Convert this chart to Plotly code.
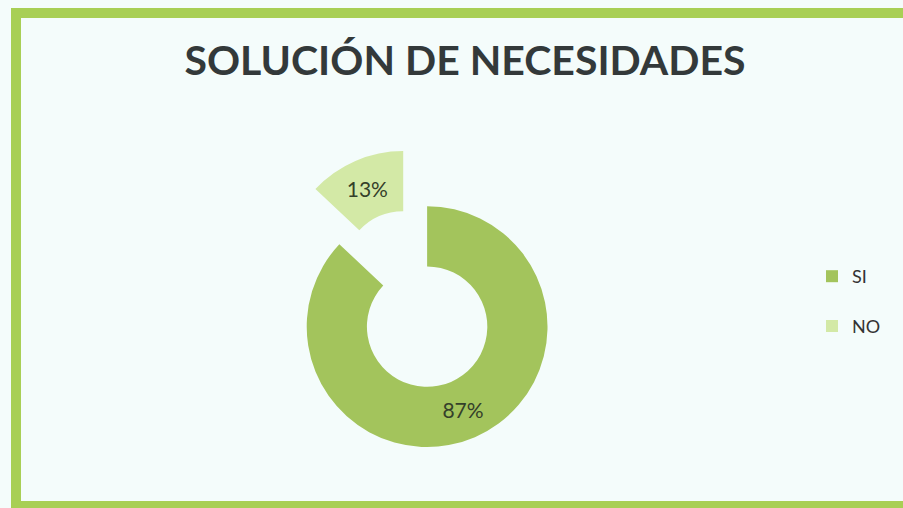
import plotly.graph_objects as go

# Survey answers and their share
labels = ["SI", "NO"]
values = [87, 13]
pulls = [0, 0.5]
colors = ["#a3c45c", "#d3e9a6"]
title_text = "SOLUCIÓN DE NECESIDADES"

W, H = 903, 508
bg = "#f4fcfb"
frame = "#a8cf55"

# Legend entries get a blank second line so the two items sit further apart
legend_names = [f"{lab}<br> " for lab in labels]

fig = go.Figure(
    go.Pie(
        labels=legend_names,
        values=values,
        pull=pulls,
        hole=0.5,
        sort=False,
        direction="clockwise",
        rotation=0,
        marker=dict(colors=colors, line=dict(width=0)),
        texttemplate="%{percent:.0%}",
        textposition="inside",
        insidetextorientation="horizontal",
        textfont=dict(family="Lato", size=21, color="#34402a"),
        domain=dict(x=[0.273, 0.673], y=[0.0, 0.714]),
        hoverinfo="skip",
    )
)

fig.update_layout(
    width=W,
    height=H,
    margin=dict(l=0, r=0, t=0, b=0),
    paper_bgcolor=bg,
    plot_bgcolor=bg,
    title=dict(
        text=f"<b>{title_text}</b>",
        x=465 / W,
        xanchor="center",
        y=1 - 61 / H,
        yanchor="middle",
        yref="container",
        font=dict(family="Lato", size=41, color="#33393a"),
    ),
    legend=dict(
        x=812 / W,
        xanchor="left",
        y=1 - 258 / H,
        yanchor="top",
        valign="top",
        font=dict(family="Lato", size=18, color="#333333"),
        bgcolor="rgba(0,0,0,0)",
        itemwidth=30,
    ),
    shapes=[
        # green frame around the chart (right side runs off the page)
        dict(type="line", xref="paper", yref="paper",
             x0=16 / W, x1=1.02, y0=1 - 13 / H, y1=1 - 13 / H,
             line=dict(color=frame, width=10)),
        dict(type="line", xref="paper", yref="paper",
             x0=16 / W, x1=16 / W, y0=1 - 8 / H, y1=-0.02,
             line=dict(color=frame, width=10)),
        dict(type="line", xref="paper", yref="paper",
             x0=11 / W, x1=1.02, y0=1 - 505 / H, y1=1 - 505 / H,
             line=dict(color=frame, width=8)),
    ],
)

fig.write_html("out.html")
